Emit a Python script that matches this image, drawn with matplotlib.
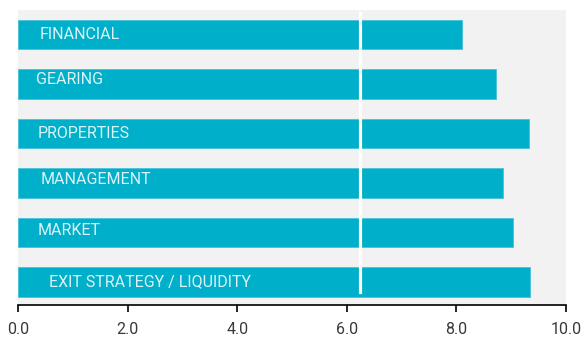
import matplotlib.pyplot as plt

categories = ["FINANCIAL", "GEARING", "PROPERTIES", "MANAGEMENT", "MARKET", "EXIT STRATEGY / LIQUIDITY"]
scores = [8.11, 8.73, 9.32, 8.85, 9.04, 9.35]
average = 6.24
xticks = [0.0, 2.0, 4.0, 6.0, 8.0, 10.0]

# small label offsets as in the original
label_x = [0.40, 0.33, 0.35, 0.42, 0.35, 0.57]
label_dy = [0.0, -0.1, 0.0, -0.08, -0.04, 0.0]

fig = plt.figure(figsize=(5.83, 3.38), dpi=100)
ax = fig.add_axes([18/583, (338-305)/338, 548/583, 295/338])
ax.set_facecolor("#f2f2f2")

ypos = list(range(len(categories)))
ax.barh(ypos, scores, height=0.6, color="#00afc9", edgecolor="#4fc4d8", linewidth=0.7)
ax.axvline(average, ymin=0.045, ymax=0.99, color="white", lw=2.3)

for i, name in enumerate(categories):
    ax.text(label_x[i], ypos[i] + label_dy[i], name, color="#dcf3f7",
            fontsize=11.5, family="Roboto", va="center", ha="left")

ax.set_ylim(5.465, -0.495)
ax.set_xlim(0, 10)
ax.set_yticks([])
ax.set_xticks(xticks)
ax.set_xticklabels(["%.1f" % t for t in xticks], family="Roboto", fontsize=11.5, color="#3a3a3a")
for s in ["top", "right", "left"]:
    ax.spines[s].set_visible(False)
ax.spines["bottom"].set_color("black")
ax.spines["bottom"].set_linewidth(1.2)
ax.tick_params(axis="x", direction="out", length=5, width=1.2, pad=7)

fig.savefig("out.png", dpi=100)
